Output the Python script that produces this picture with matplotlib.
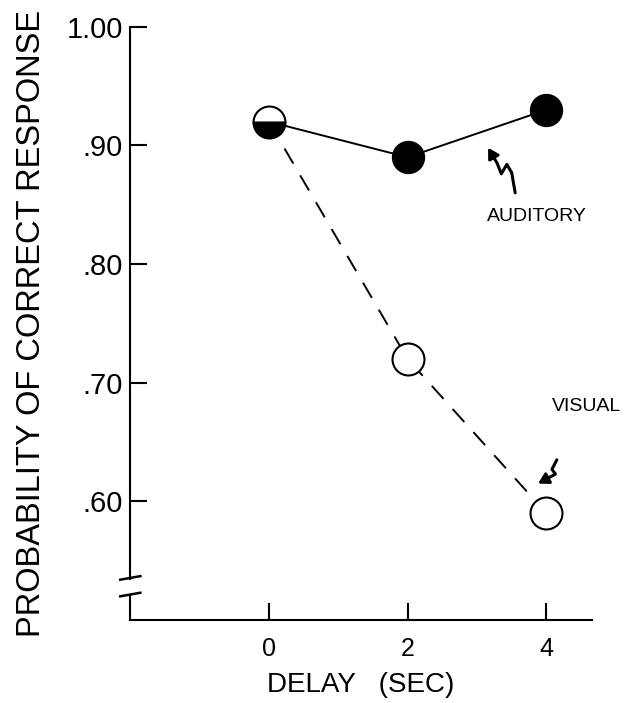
import matplotlib
matplotlib.use("Agg")
import matplotlib.pyplot as plt
from matplotlib.path import Path
from matplotlib.patches import FancyArrowPatch

plt.rcParams['font.family'] = ['Liberation Sans', 'DejaVu Sans']

delay = [0, 2, 4]
auditory = [0.92, 0.89, 0.93]
visual = [0.92, 0.72, 0.59]
yticks = [0.60, 0.70, 0.80, 0.90, 1.00]
ytick_labels = ['.60', '.70', '.80', '.90', '1.00']

fig = plt.figure(figsize=(6.34, 7.03), dpi=100)
ax = fig.add_axes([0.205, 0.118, 0.728, 0.844])

# visual: dashed, open circles
ax.plot(delay, visual, color='black', lw=1.4, dashes=(9, 7), zorder=2)
ax.plot(delay[1:], visual[1:], 'o', ms=23, mfc='white', mec='black', mew=1.5, zorder=3)

# auditory: solid, filled circles
ax.plot(delay, auditory, color='black', lw=1.4, zorder=2)
ax.plot(delay[1:], auditory[1:], 'o', ms=23, mfc='black', mec='black', zorder=3)

# shared point at 0 -> half filled
ax.plot(delay[0], auditory[0], 'o', ms=23, fillstyle='bottom', mfc='black',
        markerfacecoloralt='white', mec='black', mew=1.5, zorder=4)

ax.set_xlim(-2, 4.65)
ax.set_ylim(0.50, 1.00)
ax.set_xticks(delay)
ax.set_xticklabels([str(d) for d in delay], fontsize=18)
ax.set_yticks(yticks)
ax.set_yticklabels(ytick_labels, fontsize=21)
ax.tick_params(direction='in', length=12, width=1.5)
ax.tick_params(axis='x', pad=12)
ax.tick_params(axis='y', pad=5)

for s in ['top', 'right']:
    ax.spines[s].set_visible(False)
ax.spines['bottom'].set_linewidth(1.5)
ax.spines['left'].set_linewidth(1.5)
ax.spines['left'].set_bounds(0.535, 1.0)

# lower piece of the broken y axis and the break marks
ax.plot([-2, -2], [0.50, 0.521], color='black', lw=1.5, clip_on=False)
ax.plot([-2.14, -1.85], [0.534, 0.537], color='black', lw=1.8, clip_on=False)
ax.plot([-2.14, -1.85], [0.520, 0.523], color='black', lw=1.8, clip_on=False)

ax.set_xlabel('DELAY   (SEC)', fontsize=20, labelpad=8)
ax.set_ylabel('PROBABILITY OF CORRECT RESPONSE', fontsize=23.5, labelpad=14)

# labels with squiggly arrows
ax.text(3.86, 0.840, 'AUDITORY', fontsize=14, ha='center', va='center')
ax.text(4.58, 0.680, 'VISUAL', fontsize=14, ha='center', va='center')

aud_path = Path([(3.55, 0.860), (3.50, 0.877), (3.43, 0.884), (3.35, 0.876),
                 (3.29, 0.885), (3.16, 0.898)])
vis_path = Path([(4.15, 0.635), (4.08, 0.627), (4.13, 0.623), (3.88, 0.615)])
for p in (aud_path, vis_path):
    ax.add_patch(FancyArrowPatch(path=p, arrowstyle='-|>,head_length=6,head_width=3.5',
                                 color='black', lw=2.2, transform=ax.transData,
                                 clip_on=False))

fig.savefig('out.png', dpi=100)
